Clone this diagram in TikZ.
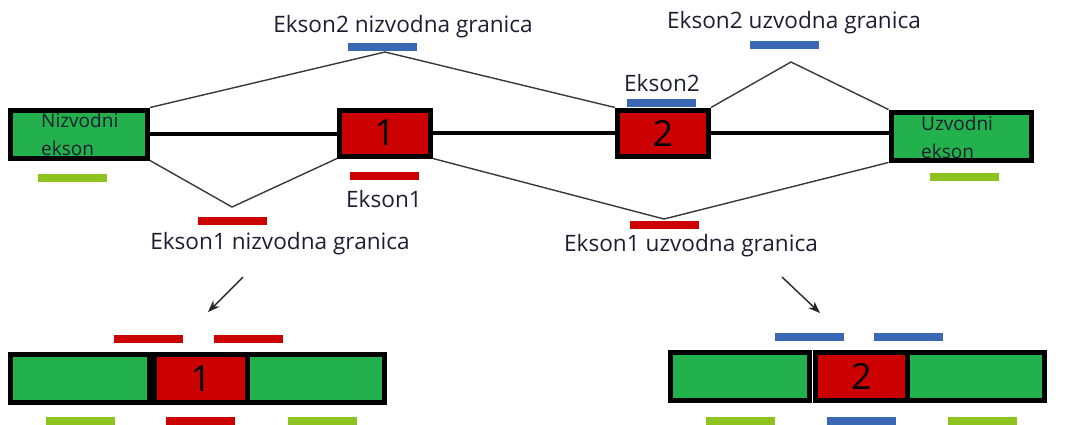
\documentclass[tikz,border=0pt]{standalone}
\usepackage{fontspec}
\setmainfont{Open Sans}
\usetikzlibrary{arrows.meta}
\definecolor{exgreen}{HTML}{22B14C}
\definecolor{exred}{HTML}{CC0000}
\definecolor{exblue}{HTML}{3A68B4}
\definecolor{exlime}{HTML}{8DC21F}
\definecolor{txt}{HTML}{1E1E32}
\definecolor{lineg}{HTML}{383838}
\tikzset{
  box/.style={draw=black, line width=5pt, inner sep=0pt, minimum height=48pt},
  gbox/.style={box, fill=exgreen},
  rbox/.style={box, fill=exred, text=black, font=\fontsize{36}{36}\selectfont},
  bar/.style={inner sep=0pt, minimum width=69pt, minimum height=8pt},
  lbl/.style={font=\fontsize{22.6}{26}\selectfont, text=txt, inner sep=0pt, anchor=base},
  intxt/.style={font=\fontsize{19}{28}\selectfont, text=txt, inner sep=0pt, anchor=north west, align=left},
  thinline/.style={line width=1.4pt, draw=lineg},
  mainline/.style={line width=4.5pt, draw=black},
  arr/.style={line width=1.4pt, draw=black!85, -{Stealth[length=12pt,width=9pt]}}
}
\begin{document}
\begin{tikzpicture}[x=1pt,y=-1pt]
\useasboundingbox (0,0) rectangle (1081,424);
% top row boxes
\node[gbox, minimum width=137pt] (L) at (79,134) {};
\node[rbox, minimum width=91pt, minimum height=46pt] (B1) at (385,133) {1};
\node[rbox, minimum width=91pt, minimum height=46pt] (B2) at (663,133) {2};
\node[gbox, minimum width=140pt] (R) at (961,136) {};
\node[intxt] (Lt) at (41,113) {Nizvodni\\ekson};
\node[intxt] (Rt) at (921,116) {Uzvodni\\ekson};
% main line
\draw[mainline] (L.east) -- (L.east -| B1.west);
\draw[mainline] (B1.east) -- (B2.west);
\draw[mainline] (B2.east) -- (B2.east -| R.west);
% junction lines
\coordinate (p1) at (385,52);
\coordinate (p2) at (791,62);
\coordinate (v1) at (232,207);
\coordinate (v2) at (664,219);
\draw[thinline] (L.north east) -- (p1) -- (B2.north west);
\draw[thinline] (B2.north east) -- (p2) -- (R.north west);
\draw[thinline] (L.south east) -- (v1) -- (B1.south west);
\draw[thinline] (B1.south east) -- (v2) -- (R.south west);
% bars top
\node[bar, fill=exblue] (b2n) at (382.5,47) {};
\node[bar, fill=exblue] (b2u) at (784,45) {};
\node[bar, fill=exblue] (b2) at (661,103) {};
\node[bar, fill=exlime] (gL) at (72,178) {};
\node[bar, fill=exred] (b1) at (384,176) {};
\node[bar, fill=exred] (r1n) at (232,221) {};
\node[bar, fill=exred] (r1u) at (664.5,224.5) {};
\node[bar, fill=exlime] (gR) at (964.5,177) {};
% labels
\node[lbl] (t2n) at (403,32) {Ekson2 nizvodna granica};
\node[lbl] (t2u) at (794,28) {Ekson2 uzvodna granica};
\node[lbl] (t2) at (662,91) {Ekson2};
\node[lbl] (t1) at (384,207) {Ekson1};
\node[lbl] (t1n) at (280,249) {Ekson1 nizvodna granica};
\node[lbl] (t1u) at (691,251) {Ekson1 uzvodna granica};
% arrows
\coordinate (a1s) at (243,277);
\coordinate (a1e) at (208,312);
\coordinate (a2s) at (782,277);
\coordinate (a2e) at (820,313);
\draw[arr] (a1s) -- (a1e);
\draw[arr] (a2s) -- (a2e);
% bottom left assembly
\node[gbox, minimum width=139pt] (A1) at (80,378.5) {};
\node[rbox, minimum width=93pt] (A2) at (201,378.5) {1};
\node[gbox, minimum width=137pt] (A3) at (316,378.5) {};
\node[bar, fill=exred] (ab1) at (148.5,338.5) {};
\node[bar, fill=exred] (ab2) at (248,338.5) {};
\node[bar, fill=exlime] (ab3) at (80,421) {};
\node[bar, fill=exred] (ab4) at (200.5,421) {};
\node[bar, fill=exlime] (ab5) at (322,421) {};
% bottom right assembly
\node[gbox, minimum width=139pt] (C1) at (740,376.5) {};
\node[rbox, minimum width=92pt] (C2) at (861.5,376.5) {2};
\node[gbox, minimum width=137pt] (C3) at (976,376.5) {};
\node[bar, fill=exblue] (cb1) at (809.5,337) {};
\node[bar, fill=exblue] (cb2) at (908,337) {};
\node[bar, fill=exlime] (cb3) at (740.5,421) {};
\node[bar, fill=exblue] (cb4) at (861,421) {};
\node[bar, fill=exlime] (cb5) at (982,421) {};
\end{tikzpicture}
\end{document}
